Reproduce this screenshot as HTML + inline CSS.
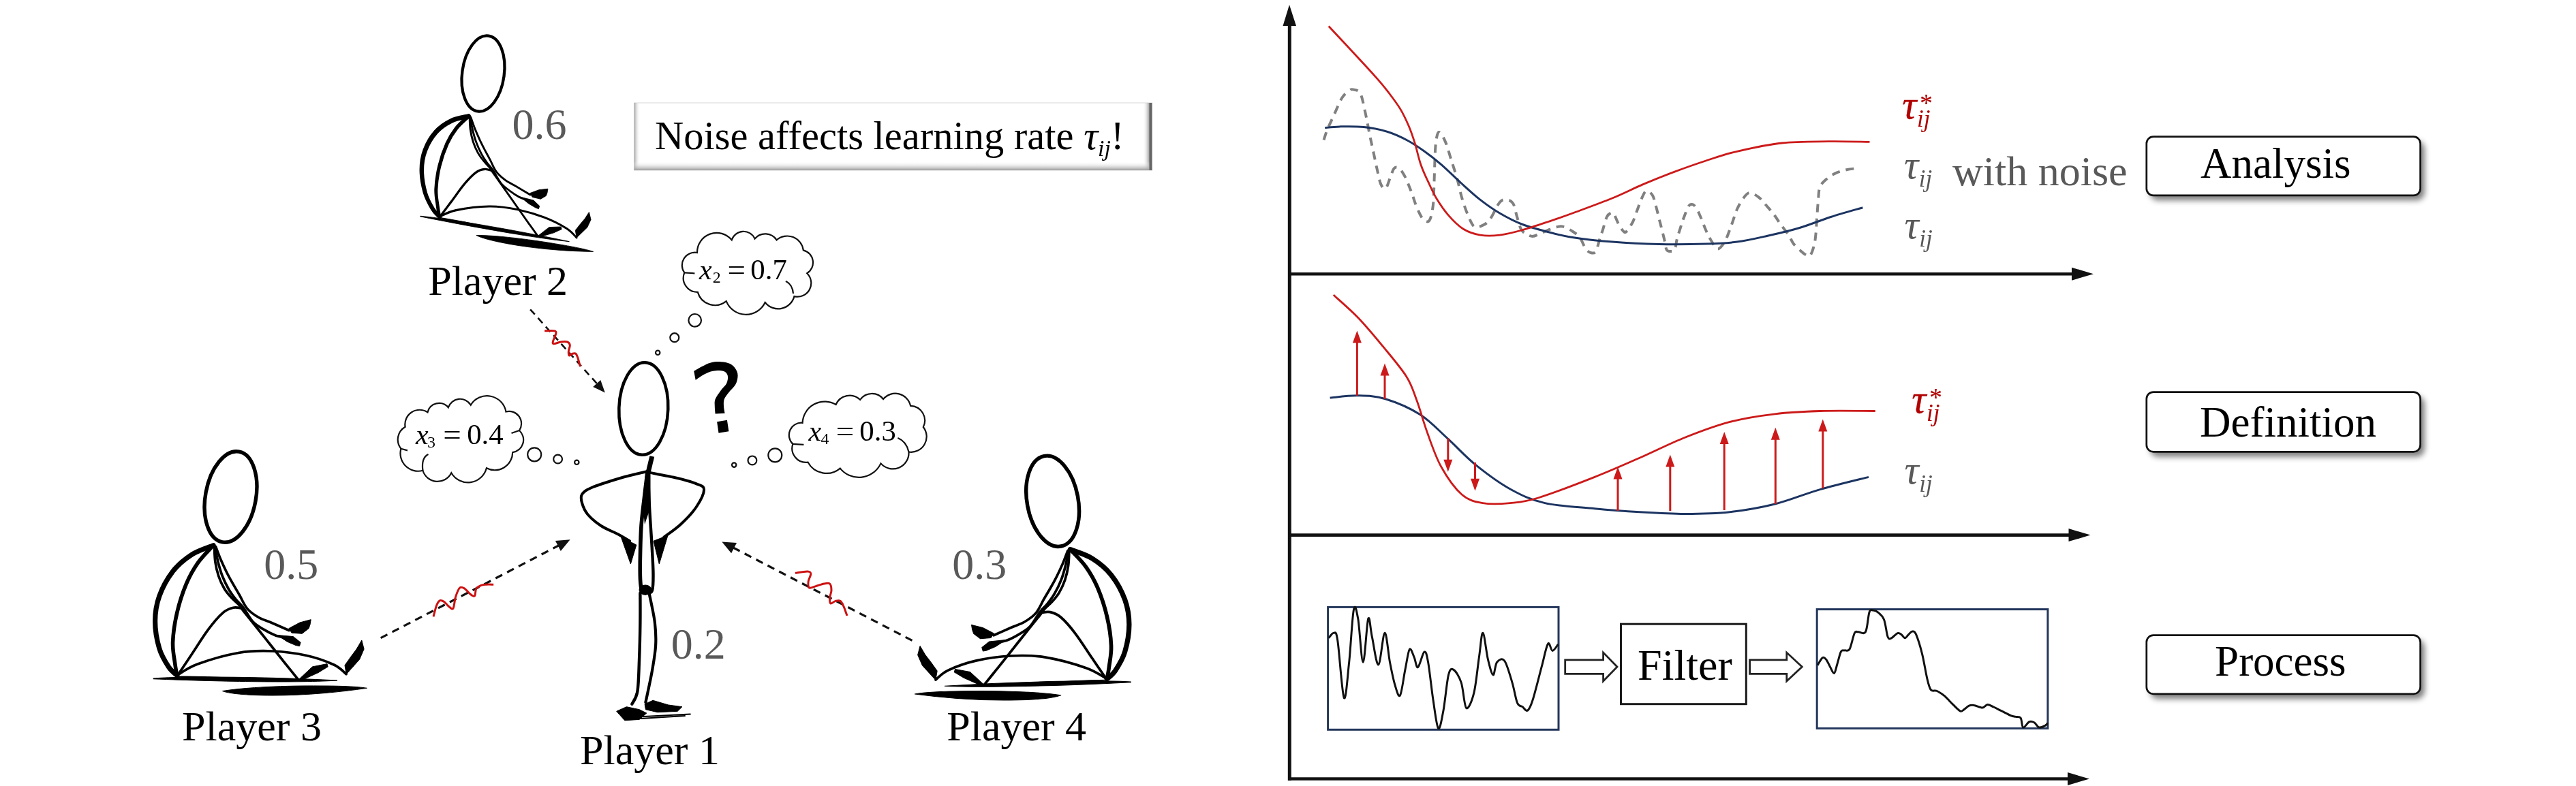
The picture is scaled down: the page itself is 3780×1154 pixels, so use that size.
<!DOCTYPE html>
<html><head><meta charset="utf-8"><style>
html,body{margin:0;padding:0;background:#fff;}
svg{display:block;will-change:transform;}
</style></head><body>
<svg width="3780" height="1154" viewBox="0 0 3780 1154" font-family="Liberation Serif">
<defs>
<filter id="blur" x="-5%" y="-20%" width="110%" height="140%"><feGaussianBlur stdDeviation="4.5"/></filter>
<linearGradient id="gL" x1="0" x2="1" y1="0" y2="0"><stop offset="0" stop-color="#a8a8a8"/><stop offset="1" stop-color="#fff" stop-opacity="0"/></linearGradient>
<linearGradient id="gR" x1="0" x2="1" y1="0" y2="0"><stop offset="0" stop-color="#fff" stop-opacity="0"/><stop offset="1" stop-color="#999"/></linearGradient>
<linearGradient id="gB" x1="0" x2="0" y1="0" y2="1"><stop offset="0" stop-color="#fff" stop-opacity="0"/><stop offset="1" stop-color="#9a9a9a"/></linearGradient>
</defs>
<rect width="3780" height="1154" fill="#fff"/>
<g id="axes" fill="#111" stroke="#111">
<line x1="1892.3" y1="30" x2="1892.3" y2="1146" stroke-width="5"/>
<path d="M1892,7 L1882.5,38 L1902,38 Z" stroke="none"/>
<line x1="1890" y1="402.2" x2="3047" y2="402.2" stroke-width="4.6"/>
<path d="M3072,402.2 L3040,392.7 L3040,411.7 Z" stroke="none"/>
<line x1="1890" y1="785.6" x2="3042.5" y2="785.6" stroke-width="4.6"/>
<path d="M3067.5,785.6 L3035.5,776.1 L3035.5,795.1 Z" stroke="none"/>
<line x1="1890" y1="1143.5" x2="3041" y2="1143.5" stroke-width="4.6"/>
<path d="M3066,1143.5 L3034,1134.0 L3034,1153.0 Z" stroke="none"/>
</g>
<path d="M1942.5,205.5 C1943.4,202.9 1945.4,195.8 1947.8,190.0 C1950.2,184.2 1953.1,178.3 1956.7,170.6 C1960.3,162.9 1965.3,150.0 1969.2,143.8 C1973.1,137.6 1977.2,135.3 1979.9,133.2 C1982.6,131.1 1982.5,130.8 1985.2,131.4 C1987.9,132.0 1992.9,131.4 1995.9,136.7 C1998.9,142.0 2000.6,153.0 2003.0,163.4 C2005.4,173.8 2008.0,188.9 2010.1,199.0 C2012.2,209.1 2013.7,215.7 2015.5,224.0 C2017.3,232.3 2019.0,241.2 2020.8,248.9 C2022.6,256.6 2024.1,265.7 2026.2,270.3 C2028.3,274.9 2030.9,278.5 2033.3,276.7 C2035.7,274.9 2038.3,264.5 2040.4,259.6 C2042.5,254.7 2043.7,249.2 2045.8,247.1 C2047.9,245.0 2050.2,245.0 2052.9,247.1 C2055.6,249.2 2058.8,254.0 2061.8,259.6 C2064.8,265.2 2067.7,273.3 2070.7,281.0 C2073.7,288.7 2076.6,299.1 2079.6,305.9 C2082.6,312.7 2085.5,319.0 2088.5,322.0 C2091.5,325.0 2095.0,327.0 2097.4,323.7 C2099.8,320.4 2101.6,311.8 2102.8,302.3 C2104.0,292.8 2103.9,280.9 2104.5,266.7 C2105.1,252.5 2105.4,228.8 2106.3,216.9 C2107.2,205.0 2108.4,198.8 2109.9,195.5 C2111.4,192.2 2113.1,194.6 2115.2,197.3 C2117.3,200.0 2119.9,205.3 2122.3,211.5 C2124.7,217.7 2126.8,226.1 2129.5,234.7 C2132.2,243.3 2135.7,253.7 2138.4,263.2 C2141.1,272.7 2142.8,282.8 2145.5,291.7 C2148.2,300.6 2151.4,309.8 2154.4,316.6 C2157.4,323.4 2159.7,330.2 2163.3,332.6 C2166.9,335.0 2171.9,332.6 2175.8,330.8 C2179.7,329.0 2182.3,327.5 2186.5,321.9 C2190.7,316.3 2196.5,301.8 2200.7,297.0 C2204.8,292.2 2208.1,293.1 2211.4,293.4 C2214.7,293.7 2217.9,294.9 2220.3,298.8 C2222.7,302.7 2223.8,310.7 2225.6,316.6 C2227.4,322.5 2229.2,330.2 2231.0,334.4 C2232.8,338.5 2233.3,339.4 2236.3,341.5 C2239.3,343.6 2244.4,346.9 2248.8,346.9 C2253.2,346.9 2257.7,343.6 2263.0,341.5 C2268.3,339.4 2275.8,335.9 2280.8,334.4 C2285.9,332.9 2288.8,331.7 2293.3,332.6 C2297.8,333.5 2303.4,337.0 2307.6,339.7 C2311.8,342.4 2315.0,344.3 2318.2,348.6 C2321.4,352.9 2324.1,361.6 2326.9,365.4 C2329.7,369.2 2332.4,370.6 2334.9,371.2 C2337.4,371.8 2339.7,372.3 2341.8,368.9 C2343.9,365.5 2345.8,356.0 2347.5,350.6 C2349.2,345.2 2350.4,342.2 2352.1,336.8 C2353.8,331.4 2355.9,322.5 2357.8,318.5 C2359.7,314.5 2361.8,313.6 2363.5,312.8 C2365.2,312.0 2366.2,311.2 2368.1,313.9 C2370.0,316.6 2372.7,324.6 2375.0,328.8 C2377.3,333.0 2379.9,337.2 2381.8,339.1 C2383.7,341.0 2384.1,342.3 2386.4,340.2 C2388.7,338.1 2393.1,331.3 2395.6,326.5 C2398.1,321.7 2399.2,317.1 2401.3,311.6 C2403.4,306.1 2406.1,298.3 2408.2,293.3 C2410.3,288.3 2412.1,283.9 2413.9,281.8 C2415.7,279.8 2417.1,280.0 2419.0,281.0 C2420.9,282.0 2423.6,284.0 2425.4,287.6 C2427.2,291.2 2428.4,297.0 2429.9,302.5 C2431.4,308.0 2433.2,315.5 2434.5,320.8 C2435.8,326.1 2436.7,329.2 2438.0,334.5 C2439.3,339.8 2441.2,347.4 2442.5,352.8 C2443.8,358.2 2444.1,363.9 2445.5,366.6 C2446.9,369.3 2449.0,369.0 2451.0,369.0 C2453.0,369.0 2455.8,369.7 2457.4,366.6 C2459.1,363.5 2459.4,356.3 2460.9,350.6 C2462.4,344.9 2464.9,337.6 2466.6,332.2 C2468.3,326.8 2469.3,323.4 2471.2,318.5 C2473.1,313.6 2475.9,305.6 2478.0,302.5 C2480.1,299.4 2481.9,299.6 2483.8,300.2 C2485.7,300.8 2487.4,302.5 2489.5,305.9 C2491.6,309.3 2494.1,315.4 2496.4,320.8 C2498.7,326.2 2500.9,332.9 2503.2,338.0 C2505.5,343.1 2507.2,347.1 2510.1,351.7 C2513.0,356.3 2517.0,364.8 2520.4,365.4 C2523.8,366.0 2527.8,359.5 2530.7,355.1 C2533.6,350.7 2535.5,344.4 2537.6,339.1 C2539.7,333.8 2541.4,328.5 2543.3,323.1 C2545.2,317.8 2546.5,312.4 2549.0,307.0 C2551.5,301.6 2555.1,295.0 2558.2,291.0 C2561.3,287.0 2563.6,283.2 2567.4,283.0 C2571.2,282.8 2576.9,286.6 2581.1,289.9 C2585.3,293.1 2588.8,298.1 2592.6,302.5 C2596.4,306.9 2600.6,311.6 2604.0,316.2 C2607.4,320.8 2609.8,325.1 2613.2,329.9 C2616.6,334.7 2621.5,340.2 2624.6,344.8 C2627.7,349.4 2628.4,353.4 2631.5,357.4 C2634.6,361.4 2639.8,366.0 2643.0,368.9 C2646.2,371.8 2648.7,373.7 2651.0,374.6 C2653.3,375.6 2654.8,377.3 2656.7,374.6 C2658.6,371.9 2661.1,364.1 2662.4,358.6 C2663.7,353.1 2664.1,347.3 2664.7,341.4 C2665.3,335.5 2665.3,331.1 2665.9,323.1 C2666.5,315.1 2667.3,301.3 2668.1,293.3 C2668.8,285.3 2668.5,280.0 2670.4,275.0 C2672.3,270.0 2675.8,266.9 2679.6,263.5 C2683.4,260.1 2688.3,256.8 2693.3,254.4 C2698.3,252.0 2704.1,250.5 2709.4,249.3 C2714.8,248.1 2722.7,247.4 2725.4,247.0" fill="none" stroke="#808080" stroke-width="4" stroke-dasharray="12 9"/>
<path d="M1944.2,187.6 C1947.8,187.3 1956.1,186.1 1965.6,185.9 C1975.1,185.7 1989.3,185.3 2001.2,186.6 C2013.1,187.9 2026.2,190.4 2036.9,193.7 C2047.6,197.0 2056.5,201.4 2065.4,206.2 C2074.3,210.9 2082.0,216.3 2090.3,222.2 C2098.6,228.1 2106.3,234.1 2115.2,241.8 C2124.1,249.5 2134.2,259.9 2143.7,268.5 C2153.2,277.1 2162.7,286.0 2172.2,293.4 C2181.7,300.8 2190.6,307.1 2200.7,313.0 C2210.8,318.9 2221.5,324.6 2232.8,329.0 C2244.1,333.4 2256.5,336.6 2268.4,339.7 C2280.3,342.8 2287.8,345.3 2304.0,347.9 C2320.2,350.5 2344.1,353.3 2365.8,355.1 C2387.6,356.9 2411.6,358.1 2434.5,358.6 C2457.4,359.1 2484.1,358.7 2503.2,358.1 C2522.3,357.5 2533.7,357.1 2549.0,355.1 C2564.3,353.1 2579.5,349.4 2594.8,346.0 C2610.1,342.6 2625.4,339.1 2640.7,334.5 C2656.0,329.9 2671.1,323.5 2686.5,318.5 C2701.9,313.5 2725.6,307.0 2733.4,304.7" fill="none" stroke="#1c3461" stroke-width="3"/>
<path d="M1949.7,38.5 C1957.0,46.3 1981.7,72.8 1993.5,85.5 C2005.3,98.2 2013.1,106.7 2020.3,114.9 C2027.5,123.1 2031.2,127.4 2036.9,134.9 C2042.6,142.4 2049.7,151.6 2054.7,159.9 C2059.7,168.2 2063.5,176.5 2067.1,184.8 C2070.7,193.1 2073.0,200.2 2076.0,209.7 C2079.0,219.2 2081.6,232.3 2084.9,241.8 C2088.2,251.3 2091.7,258.4 2095.6,266.7 C2099.5,275.0 2103.0,283.4 2108.1,291.7 C2113.2,300.0 2119.4,309.2 2125.9,316.6 C2132.4,324.0 2139.6,331.4 2147.3,336.2 C2155.0,340.9 2163.3,343.6 2172.2,345.1 C2181.1,346.6 2190.6,346.3 2200.7,345.1 C2210.8,343.9 2220.9,341.3 2232.8,338.0 C2244.7,334.7 2259.4,329.7 2271.9,325.5 C2284.4,321.3 2291.9,318.8 2307.6,313.0 C2323.2,307.2 2348.5,298.1 2365.8,291.0 C2383.1,283.9 2396.3,276.9 2411.6,270.4 C2426.9,263.9 2442.1,257.8 2457.4,252.1 C2472.7,246.4 2487.9,241.0 2503.2,236.0 C2518.5,231.0 2530.4,226.6 2549.0,222.3 C2567.6,218.0 2592.4,212.4 2614.7,210.0 C2637.0,207.6 2661.5,208.0 2683.0,207.7 C2704.5,207.4 2733.4,208.3 2743.5,208.4" fill="none" stroke="#cc1a1a" stroke-width="2.8"/>
<path d="M1951.6,584.0 C1958.4,583.5 1978.8,580.5 1992.4,580.8 C2006.0,581.1 2017.7,581.1 2033.0,585.8 C2048.3,590.5 2068.7,599.0 2084.0,608.8 C2099.3,618.6 2111.2,632.1 2124.8,644.4 C2138.4,656.7 2150.2,670.3 2165.5,682.6 C2180.8,694.9 2199.5,708.9 2216.4,718.2 C2233.3,727.5 2246.4,733.9 2267.0,738.6 C2287.6,743.4 2316.8,744.5 2340.0,746.7 C2363.2,748.9 2384.0,750.4 2406.0,751.7 C2428.0,753.0 2449.9,754.4 2472.0,754.4 C2494.1,754.4 2516.4,754.1 2538.5,751.7 C2560.6,749.3 2582.5,745.5 2604.6,740.0 C2626.7,734.5 2647.9,725.2 2670.8,718.6 C2693.7,712.0 2730.1,703.4 2742.0,700.4" fill="none" stroke="#1c3461" stroke-width="3"/>
<path d="M1956.7,433.0 C1962.7,438.5 1980.5,453.7 1992.4,466.0 C2004.3,478.3 2016.1,492.6 2028.0,507.0 C2039.9,521.5 2055.2,539.2 2063.7,552.7 C2072.2,566.2 2073.9,574.5 2079.0,588.0 C2084.1,601.5 2088.1,617.8 2094.0,634.0 C2099.9,650.2 2106.1,669.7 2114.6,685.0 C2123.1,700.3 2134.8,717.1 2145.0,726.0 C2155.2,734.9 2163.9,736.5 2175.7,738.6 C2187.5,740.7 2202.4,739.9 2216.0,738.6 C2229.6,737.3 2236.3,737.4 2257.0,731.0 C2277.7,724.6 2315.2,710.2 2340.0,700.4 C2364.8,690.6 2384.0,681.9 2406.0,672.3 C2428.0,662.6 2449.9,651.3 2472.0,642.5 C2494.1,633.7 2516.4,625.2 2538.5,619.4 C2560.6,613.6 2582.5,610.4 2604.6,607.8 C2626.7,605.1 2646.3,604.2 2670.8,603.5 C2695.3,602.8 2738.3,603.5 2751.8,603.5" fill="none" stroke="#cc1a1a" stroke-width="2.8"/>
<g fill="#cc1a1a" stroke="#cc1a1a">
<line x1="1991.4" y1="580.8" x2="1991.4" y2="500.5" stroke-width="3"/>
<path d="M1991.4,485.5 L1984.9,503.5 L1997.9,503.5 Z" stroke="none"/>
<line x1="2032" y1="585.8" x2="2032" y2="548.4" stroke-width="3"/>
<path d="M2032,533.4 L2025.5,551.4 L2038.5,551.4 Z" stroke="none"/>
<line x1="2374" y1="750" x2="2374" y2="700.5" stroke-width="3"/>
<path d="M2374,685.5 L2367.5,703.5 L2380.5,703.5 Z" stroke="none"/>
<line x1="2450.8" y1="750" x2="2450.8" y2="682.4" stroke-width="3"/>
<path d="M2450.8,667.4 L2444.3,685.4 L2457.3,685.4 Z" stroke="none"/>
<line x1="2530.2" y1="749" x2="2530.2" y2="649" stroke-width="3"/>
<path d="M2530.2,634 L2523.7,652 L2536.7,652 Z" stroke="none"/>
<line x1="2605.3" y1="740" x2="2605.3" y2="642.7" stroke-width="3"/>
<path d="M2605.3,627.7 L2598.8,645.7 L2611.8,645.7 Z" stroke="none"/>
<line x1="2674.8" y1="717" x2="2674.8" y2="630.4" stroke-width="3"/>
<path d="M2674.8,615.4 L2668.3,633.4 L2681.3,633.4 Z" stroke="none"/>
<line x1="2124.8" y1="643.4" x2="2124.8" y2="677.8" stroke-width="3"/>
<path d="M2124.8,692.8 L2118.3,674.8 L2131.3,674.8 Z" stroke="none"/>
<line x1="2164.5" y1="679" x2="2164.5" y2="705.8" stroke-width="3"/>
<path d="M2164.5,720.8 L2158.0,702.8 L2171.0,702.8 Z" stroke="none"/>
</g>
<rect x="1948.6" y="891.4" width="338.4" height="179.9" fill="none" stroke="#23365b" stroke-width="3"/>
<rect x="2666.2" y="894.6" width="338.7" height="174.8" fill="none" stroke="#23365b" stroke-width="3"/>
<path d="M1949.8,936.7 C1951.0,935.4 1955.1,928.6 1957.2,929.2 C1959.4,929.8 1960.3,924.5 1962.8,940.4 C1965.3,956.3 1969.4,1019.2 1972.2,1024.5 C1975.0,1029.8 1977.3,993.7 1979.7,972.2 C1982.0,950.7 1984.2,906.1 1986.4,895.5 C1988.6,884.9 1990.5,895.8 1992.8,908.6 C1995.1,921.4 1997.7,972.2 2000.2,972.2 C2002.7,972.2 2005.5,914.8 2007.7,908.6 C2009.9,902.4 2010.8,923.6 2013.3,934.8 C2015.8,946.0 2019.6,976.9 2022.7,975.9 C2025.8,975.0 2029.2,929.8 2032.0,929.2 C2034.8,928.6 2037.0,959.4 2039.5,972.2 C2042.0,985.0 2044.5,997.7 2047.0,1005.8 C2049.5,1014.0 2052.0,1024.5 2054.5,1020.8 C2057.0,1017.1 2059.6,994.6 2061.9,983.4 C2064.3,972.2 2066.1,956.6 2068.3,953.5 C2070.5,950.4 2073.0,960.3 2075.0,964.7 C2077.1,969.1 2078.2,980.9 2080.6,979.7 C2083.1,978.4 2087.5,958.5 2090.0,957.2 C2092.5,956.0 2093.4,960.3 2095.6,972.2 C2097.8,984.0 2100.6,1012.1 2103.1,1028.3 C2105.6,1044.5 2108.1,1066.9 2110.6,1069.4 C2113.1,1071.9 2115.5,1056.3 2118.0,1043.2 C2120.5,1030.2 2123.0,1000.9 2125.5,990.9 C2128.0,980.9 2129.9,981.5 2133.0,983.4 C2136.1,985.3 2141.1,992.8 2144.2,1002.1 C2147.3,1011.5 2148.6,1037.0 2151.7,1039.5 C2154.8,1042.0 2159.8,1029.5 2162.9,1017.1 C2166.0,1004.6 2168.2,979.4 2170.4,964.7 C2172.6,950.1 2173.8,928.6 2176.0,929.2 C2178.2,929.8 2181.0,958.2 2183.5,968.5 C2186.0,978.7 2188.8,990.3 2191.0,990.9 C2193.1,991.5 2193.8,975.6 2196.6,972.2 C2199.4,968.8 2204.1,965.3 2207.8,970.3 C2211.5,975.3 2215.9,991.8 2219.0,1002.1 C2222.1,1012.4 2224.0,1026.1 2226.5,1032.0 C2229.0,1037.9 2231.5,1035.8 2234.0,1037.6 C2236.5,1039.5 2239.0,1044.8 2241.5,1043.2 C2243.9,1041.7 2245.5,1038.9 2248.9,1028.3 C2252.4,1017.7 2258.3,993.5 2262.0,979.7 C2265.8,965.8 2268.7,949.3 2271.4,945.3 C2274.0,941.2 2275.6,955.2 2278.1,955.4 C2280.6,955.5 2285.0,947.6 2286.3,946.0" fill="none" stroke="#111" stroke-width="3"/>
<path d="M2667.1,976.6 C2668.3,974.8 2672.2,967.1 2674.3,965.7 C2676.4,964.4 2677.9,966.2 2679.7,968.3 C2681.5,970.4 2683.2,975.0 2685.2,978.4 C2687.1,981.8 2689.5,989.1 2691.3,988.5 C2693.1,987.9 2694.3,980.1 2696.0,974.8 C2697.7,969.5 2699.6,960.0 2701.4,956.7 C2703.2,953.4 2704.7,955.5 2706.8,954.9 C2708.9,954.3 2711.7,957.3 2714.1,953.1 C2716.5,948.9 2719.2,933.8 2721.3,929.6 C2723.4,925.4 2724.0,928.1 2726.7,927.8 C2729.4,927.5 2734.8,932.6 2737.5,927.8 C2740.3,923.0 2741.2,904.2 2743.0,898.9 C2744.8,893.6 2746.3,896.0 2748.4,896.0 C2750.5,896.0 2752.9,896.6 2755.6,898.9 C2758.3,901.2 2762.2,903.7 2764.6,909.7 C2767.0,915.8 2768.3,930.5 2770.1,935.0 C2771.9,939.5 2773.1,937.7 2775.5,936.8 C2777.9,935.9 2782.1,930.5 2784.5,929.6 C2786.9,928.7 2788.1,930.2 2789.9,931.4 C2791.7,932.6 2793.5,936.8 2795.3,936.8 C2797.2,936.8 2799.0,933.0 2800.8,931.4 C2802.6,929.8 2804.4,927.1 2806.2,927.1 C2808.0,927.1 2809.2,925.9 2811.6,931.4 C2814.0,937.0 2817.9,949.5 2820.6,960.3 C2823.3,971.2 2825.8,987.7 2827.9,996.4 C2830.0,1005.2 2830.9,1009.7 2833.3,1012.7 C2835.7,1015.7 2839.0,1013.0 2842.3,1014.5 C2845.6,1016.0 2849.2,1018.4 2853.2,1021.7 C2857.1,1025.0 2861.9,1030.6 2865.8,1034.4 C2869.7,1038.1 2873.9,1042.9 2876.6,1044.1 C2879.3,1045.3 2879.9,1042.9 2882.1,1041.6 C2884.2,1040.3 2886.9,1037.2 2889.3,1036.2 C2891.7,1035.2 2893.2,1035.0 2896.5,1035.5 C2899.8,1035.9 2905.8,1039.3 2909.1,1039.1 C2912.5,1038.9 2913.7,1034.6 2916.4,1034.4 C2919.1,1034.2 2922.1,1036.5 2925.4,1038.0 C2928.7,1039.5 2932.0,1041.3 2936.2,1043.4 C2940.5,1045.5 2947.1,1049.1 2950.7,1050.6 C2954.3,1052.1 2955.5,1051.8 2957.9,1052.4 C2960.3,1053.0 2963.3,1051.7 2965.1,1054.2 C2967.0,1056.8 2966.6,1067.1 2968.8,1068.0 C2970.9,1068.9 2975.1,1060.9 2977.8,1059.7 C2980.5,1058.5 2982.6,1059.4 2985.0,1060.8 C2987.4,1062.1 2989.5,1067.3 2992.2,1068.0 C2994.9,1068.7 2999.2,1066.2 3001.3,1065.1 C3003.4,1064.0 3004.3,1062.1 3004.9,1061.5" fill="none" stroke="#111" stroke-width="3"/>
<path d="M2296.7,968.8000000000001 L2352.6,968.8000000000001 L2352.6,958.1 L2373,979.1 L2352.6,1000.1 L2352.6,989.4 L2296.7,989.4 Z" fill="#fff" stroke="#222" stroke-width="2.8"/>
<path d="M2567.6,968.8000000000001 L2621.8,968.8000000000001 L2621.8,958.1 L2644.3,979.1 L2621.8,1000.1 L2621.8,989.4 L2567.6,989.4 Z" fill="#fff" stroke="#222" stroke-width="2.8"/>
<rect x="2378.5" y="916.2" width="183.8" height="117.5" fill="#fff" stroke="#1a1a1a" stroke-width="3"/>
<text x="2403.1" y="998.2" font-size="64" font-family="Liberation Serif" fill="#000">Filter</text>
<text x="2791.3" y="174" font-family="Liberation Serif" font-style="italic" font-size="59" fill="#b00000" stroke="#b00000" stroke-width="0.3">τ</text><text x="2813.1" y="186.1" font-family="Liberation Serif" font-style="italic" font-size="35.0" fill="#b00000">ij</text><text x="2816.9" y="163.6" font-family="Liberation Serif" font-size="38.0" fill="#b00000">*</text>
<text x="2794" y="261.5" font-family="Liberation Serif" font-style="italic" font-size="59" fill="#595959">τ</text><text x="2815.8" y="273.6" font-family="Liberation Serif" font-style="italic" font-size="35.0" fill="#595959">ij</text>
<text x="2865" y="271.5" font-family="Liberation Serif" font-size="62" fill="#595959">with noise</text>
<text x="2794.4" y="350" font-family="Liberation Serif" font-style="italic" font-size="59" fill="#595959">τ</text><text x="2816.2" y="362.1" font-family="Liberation Serif" font-style="italic" font-size="35.0" fill="#595959">ij</text>
<text x="2805.3" y="606" font-family="Liberation Serif" font-style="italic" font-size="59" fill="#b00000" stroke="#b00000" stroke-width="0.3">τ</text><text x="2827.1" y="618.1" font-family="Liberation Serif" font-style="italic" font-size="35.0" fill="#b00000">ij</text><text x="2830.9" y="595.6" font-family="Liberation Serif" font-size="38.0" fill="#b00000">*</text>
<text x="2794.4" y="710" font-family="Liberation Serif" font-style="italic" font-size="59" fill="#595959">τ</text><text x="2816.2" y="722.1" font-family="Liberation Serif" font-style="italic" font-size="35.0" fill="#595959">ij</text>
<rect x="3155" y="206.9" width="403" height="87.4" rx="12" fill="#000" opacity="0.5" filter="url(#blur)"/>
<rect x="3149.8" y="200.70000000000002" width="401.8" height="86.2" rx="10" fill="#fff" stroke="#111" stroke-width="2.7"/>
<text x="3229.1" y="261.1" font-family="Liberation Serif" font-size="63" fill="#000">Analysis</text>
<rect x="3155" y="581.8" width="403" height="88.90000000000009" rx="12" fill="#000" opacity="0.5" filter="url(#blur)"/>
<rect x="3149.8" y="575.5999999999999" width="401.8" height="87.70000000000009" rx="10" fill="#fff" stroke="#111" stroke-width="2.7"/>
<text x="3228.1" y="640.6" font-family="Liberation Serif" font-size="63" fill="#000">Definition</text>
<rect x="3155" y="938.9" width="403" height="87.30000000000007" rx="12" fill="#000" opacity="0.5" filter="url(#blur)"/>
<rect x="3149.8" y="932.6999999999999" width="401.8" height="86.10000000000007" rx="10" fill="#fff" stroke="#111" stroke-width="2.7"/>
<text x="3250.1" y="991.9" font-family="Liberation Serif" font-size="63" fill="#000">Process</text>
<path d="M1023.0,371.0 A28.6,28.6 0 0 1 1073.7,352.3 A18.2,18.2 0 0 1 1107.6,350.5 A20.1,20.1 0 0 1 1139.6,352.3 A23.8,23.8 0 0 1 1178.8,367.4 A18.6,18.6 0 0 1 1184.2,401.3 A20.0,20.0 0 0 1 1165.5,435.1 A24.4,24.4 0 0 1 1122.7,444.0 A31.1,31.1 0 0 1 1065.7,442.2 A26.3,26.3 0 0 1 1023.8,428.9 A20.7,20.7 0 0 1 1004.3,400.4 A18.8,18.8 0 0 1 1023.0,371.0 Z" fill="#fff" stroke="#111" stroke-width="2.2"/>
<path d="M620.4,690.8 A26.1,26.1 0 0 1 588.4,658.7 A21.5,21.5 0 0 1 594.6,626.7 A21.4,21.4 0 0 1 627.5,605.3 A17.4,17.4 0 0 1 657.8,598.2 A18.3,18.3 0 0 1 690.8,594.6 A28.1,28.1 0 0 1 742.4,604.4 A18.1,18.1 0 0 1 762.0,632.0 A18.5,18.5 0 0 1 752.2,664.1 A26.1,26.1 0 0 1 713.9,687.2 A28.1,28.1 0 0 1 662.3,694.3 A22.6,22.6 0 0 1 620.4,690.8 Z" fill="#fff" stroke="#111" stroke-width="2.2"/>
<path d="M1177.6,620.8 A32.6,32.6 0 0 1 1226.6,594.0 A22.0,22.0 0 0 1 1262.2,586.9 A21.2,21.2 0 0 1 1296.1,586.0 A22.9,22.9 0 0 1 1336.1,595.8 A21.6,21.6 0 0 1 1354.8,627.0 A22.7,22.7 0 0 1 1333.5,663.5 A23.4,23.4 0 0 1 1292.5,680.4 A35.4,35.4 0 0 1 1232.8,687.6 A31.0,31.0 0 0 1 1185.6,678.7 A20.5,20.5 0 0 1 1163.4,651.9 A18.1,18.1 0 0 1 1177.6,620.8 Z" fill="#fff" stroke="#111" stroke-width="2.2"/>
<g fill="none" stroke="#111" stroke-width="2.2">
<path d="M1153,412.8 Q1163,418 1164,431"/>
<path d="M1004.3,400.4 L1019.4,401.3"/>
<path d="M1317.4,643 Q1330,648 1333.5,663.5"/>
<path d="M1163.4,651.9 L1179.4,652.8"/>
<path d="M620.4,690.8 Q618,672 628.5,667"/>
<path d="M762,632 L750.5,636"/>
<path d="M588.4,658.7 L598,661.4"/>
</g>
<g fill="#fff" stroke="#111" stroke-width="2.2">
<circle cx="1019.7" cy="470.3" r="9.3"/>
<circle cx="989.8" cy="495.7" r="6.5"/>
<circle cx="965.2" cy="517.8" r="3.2"/>
<circle cx="784.2" cy="667.3" r="10"/>
<circle cx="818.6" cy="674" r="6.4"/>
<circle cx="846.3" cy="678.8" r="3.2"/>
<circle cx="1137.3" cy="668.3" r="10"/>
<circle cx="1103.9" cy="675.9" r="6.4"/>
<circle cx="1077.2" cy="682.6" r="3.2"/>
</g>
<text x="1026.1" y="409.7" font-family="Liberation Serif" font-style="italic" font-size="42" fill="#000">x</text><text x="1045.7" y="414.8" font-family="Liberation Serif" font-size="23.9" fill="#000">2</text><text x="0" y="0" transform="translate(1067.5,409.7) scale(1.12,1)" font-family="Liberation Serif" font-size="42" fill="#000">=</text><text x="1101.3" y="409.7" font-family="Liberation Serif" font-size="42.8" fill="#000">0.7</text>
<text x="610" y="651.5" font-family="Liberation Serif" font-style="italic" font-size="42" fill="#000">x</text><text x="627" y="657" font-family="Liberation Serif" font-size="23.9" fill="#000">3</text><text x="0" y="0" transform="translate(650.3,651.5) scale(1.12,1)" font-family="Liberation Serif" font-size="42" fill="#000">=</text><text x="685.2" y="651.5" font-family="Liberation Serif" font-size="42.8" fill="#000">0.4</text>
<text x="1186.4" y="646.5" font-family="Liberation Serif" font-style="italic" font-size="42" fill="#000">x</text><text x="1204.5" y="652" font-family="Liberation Serif" font-size="23.9" fill="#000">4</text><text x="0" y="0" transform="translate(1226.7,646.5) scale(1.12,1)" font-family="Liberation Serif" font-size="42" fill="#000">=</text><text x="1261.3" y="646.5" font-family="Liberation Serif" font-size="42.8" fill="#000">0.3</text>
<line x1="778.1" y1="454.3" x2="877.1" y2="564.5" stroke="#111" stroke-width="2.6" stroke-dasharray="10 7"/><path d="M887.8,576.4 L870.2,568.0 L881.3,558.0 Z" fill="#111"/>
<line x1="558.7" y1="936.7" x2="820.6" y2="800.5" stroke="#111" stroke-width="3.2" stroke-dasharray="11 8"/><path d="M836.6,792.2 L822.8,809.0 L814.9,793.9 Z" fill="#111"/>
<line x1="1338.5" y1="940.4" x2="1075.3" y2="803.7" stroke="#111" stroke-width="3.2" stroke-dasharray="11 8"/><path d="M1059.3,795.4 L1081.0,797.1 L1073.1,812.2 Z" fill="#111"/>
<path d="M799.1,485.8 C801.6,485.8 811.7,484.9 814.4,485.8 C817.1,486.8 815.8,489.0 815.3,491.5 C814.8,494.0 812.0,498.8 811.5,501.0 C811.0,503.2 810.6,504.6 812.5,504.8 C814.4,505.0 819.6,502.5 822.9,502.0 C826.2,501.5 830.3,501.2 832.5,502.0 C834.7,502.8 836.0,504.6 836.3,506.8 C836.6,509.0 834.6,512.8 834.4,515.3 C834.2,517.8 834.3,521.4 835.3,522.0 C836.2,522.6 838.5,519.7 840.1,519.2 C841.7,518.7 843.6,518.2 844.9,519.2 C846.2,520.2 846.9,522.9 847.7,524.9 C848.5,526.9 849.0,529.3 849.6,531.5 C850.2,533.7 851.2,537.1 851.5,538.2" fill="none" stroke="#cc1111" stroke-width="3" stroke-linejoin="round"/>
<path d="M636.0,905.3 C636.8,902.5 639.2,892.3 640.8,888.4 C642.4,884.5 643.9,882.4 645.7,881.6 C647.5,880.8 649.5,882.1 651.7,883.6 C653.9,885.1 656.8,889.2 659.0,890.8 C661.2,892.4 663.4,895.6 665.0,893.2 C666.6,890.8 667.0,881.3 668.6,876.3 C670.2,871.3 672.5,865.0 674.7,863.0 C676.9,861.0 679.5,862.8 681.9,864.2 C684.3,865.6 686.8,869.7 689.2,871.5 C691.6,873.3 694.8,876.3 696.4,875.1 C698.0,873.9 697.2,866.8 698.8,864.2 C700.4,861.6 703.6,860.4 706.0,859.4 C708.4,858.4 710.3,858.4 713.3,858.2 C716.3,858.0 722.4,858.2 724.2,858.2" fill="none" stroke="#cc1111" stroke-width="3" stroke-linejoin="round"/>
<path d="M1166.9,841.3 C1169.9,840.9 1181.2,838.7 1185.0,838.9 C1188.8,839.1 1189.6,840.1 1189.8,842.5 C1190.0,844.9 1186.6,850.0 1186.2,853.4 C1185.8,856.8 1185.6,861.8 1187.4,863.0 C1189.2,864.2 1193.5,861.6 1197.1,860.6 C1200.7,859.6 1205.8,857.6 1209.2,857.0 C1212.6,856.4 1215.8,855.4 1217.6,857.0 C1219.4,858.6 1220.0,863.3 1220.0,866.7 C1220.0,870.1 1217.8,874.3 1217.6,877.5 C1217.4,880.7 1217.4,885.2 1218.8,886.0 C1220.2,886.8 1223.7,883.0 1226.1,882.4 C1228.5,881.8 1231.3,881.0 1233.3,882.4 C1235.3,883.8 1236.6,887.2 1238.2,890.8 C1239.8,894.4 1242.2,901.9 1243.0,904.1" fill="none" stroke="#cc1111" stroke-width="3" stroke-linejoin="round"/>
<g id="p3">
<ellipse cx="338.5" cy="729.5" rx="37" ry="67.5" transform="rotate(10.5 338.5 729.5)" fill="none" stroke="#000" stroke-width="5.4"/>
<g fill="none" stroke="#000" stroke-linecap="round" stroke-linejoin="round">
<path d="M313.1,800.7 C307.8,803.0 291.0,808.0 281.1,814.4 C271.2,820.8 261.5,828.7 253.6,838.9 C245.7,849.1 238.0,863.3 233.7,875.5 C229.4,887.7 227.6,899.4 227.6,912.1 C227.6,924.8 230.4,940.6 233.7,951.8 C237.0,963.0 243.2,972.7 247.5,979.3 C251.8,985.9 257.7,989.5 259.7,991.5" stroke-width="7.2"/>
<path d="M311.6,802.2 C308.0,806.3 296.6,817.4 290.2,826.6 C283.8,835.8 278.5,845.0 273.4,857.2 C268.3,869.4 263.0,885.6 259.7,899.9 C256.4,914.1 254.1,930.5 253.6,942.7 C253.1,954.9 255.6,965.1 256.6,973.2 C257.6,981.3 259.2,988.5 259.7,991.5" stroke-width="5.6"/>
<path d="M259.7,993.0 C263.3,987.7 273.5,972.4 281.1,961.0 C288.7,949.6 297.9,934.6 305.5,924.4 C313.1,914.2 320.8,905.2 326.9,899.9 C333.0,894.5 337.5,893.4 342.1,892.3 C346.7,891.1 352.5,892.9 354.6,893.0" stroke-width="3.7"/>
<path d="M314.5,802.6 C314.7,806.3 314.8,817.8 315.9,825.0 C316.9,832.2 318.6,839.5 320.8,846.0 C323.0,852.5 326.2,859.1 329.2,864.2 C332.2,869.3 335.5,872.9 339.0,876.8 C342.5,880.7 347.0,884.1 350.2,887.6 C353.4,891.1 353.1,891.8 358.0,898.0 C362.9,904.2 372.1,915.6 379.6,925.0 C387.1,934.4 396.1,945.8 403.0,954.5 C409.9,963.2 415.2,970.0 421.0,977.2 C426.8,984.4 434.8,994.2 437.5,997.6" stroke-width="3.7"/>
<path d="M316.6,802.6 C317.8,805.6 321.0,814.7 323.6,820.8 C326.2,826.9 329.0,832.9 332.0,839.0 C335.0,845.1 338.5,851.4 341.8,857.2 C345.1,863.0 348.1,867.9 351.6,874.0 C355.1,880.1 358.1,888.2 362.8,893.6 C367.5,899.0 373.5,903.0 379.6,906.5 C385.7,910.0 392.1,911.5 399.5,914.7 C406.9,917.9 419.9,923.7 424.0,925.5" stroke-width="3.7"/>
<path d="M315.5,802.6 C316.2,806.0 317.8,815.9 319.5,823.0 C321.2,830.1 323.3,838.0 326.0,845.0 C328.7,852.0 332.2,859.2 335.5,865.0 C338.8,870.8 342.4,875.5 346.0,880.0 C349.6,884.5 352.8,886.5 357.0,892.0 C361.2,897.5 366.2,907.6 371.3,913.1 C376.4,918.6 382.4,921.4 387.9,924.7 C393.4,928.0 399.2,931.0 404.4,932.9 C409.6,934.8 416.8,935.7 419.3,936.2" stroke-width="3.7"/>
<path d="M259.7,991.5 C264.8,988.8 274.9,980.5 290.0,975.0 C305.1,969.5 331.7,961.7 350.0,958.5 C368.3,955.3 383.3,955.3 400.0,956.0 C416.7,956.7 435.0,959.2 450.0,962.5 C465.0,965.8 480.3,971.5 490.0,976.0 C499.7,980.5 505.1,987.4 508.1,989.7" stroke-width="3.7"/>
</g>
<g fill="#000" stroke="#000" stroke-width="1" stroke-linejoin="round">
<path d="M423.8,922.7 L440.0,914.0 L456.2,909.7 L455.0,917.0 L453.0,922.7 L443.2,930.3 L428.1,929.2 Z"/>
<path d="M406.5,932.4 L430.3,934.6 L441.1,943.2 L439.5,948.6 L434.0,947.5 L421.6,942.2 Z"/>
<path d="M508.1,989.7 L506.0,976.8 L515.0,964.0 L523.2,953.0 L530.8,940.0 L534.1,953.0 L527.6,968.1 L510.3,987.6 Z"/>
<path d="M440.0,996.2 L458.4,978.9 L480.0,974.6 L481.1,978.9 L467.0,987.6 L443.2,998.4 Z"/>
<path d="M225,996 C260,993 380,993 495,999 C440,1002.5 330,1001 225,996.8 Z"/>
<path d="M260,993 C300,993 340,995 370,997 L300,998.5 Z"/>
<path d="M326.5,1014.6 C360,1009 420,1006.5 470,1007 C500,1007 525,1008 538.4,1010.3 C500,1016 450,1021 400,1021 C360,1021 335,1018 326.5,1014.6 Z"/>
</g>
</g>
<g id="p2">
<ellipse cx="709" cy="108" rx="30.8" ry="56" transform="rotate(8 709 108)" fill="none" stroke="#000" stroke-width="4.3"/>
<g transform="matrix(0.81,0.1296,0,0.81,434.44,-518.69)"><g fill="none" stroke="#000" stroke-linecap="round" stroke-linejoin="round">
<path d="M313.1,800.7 C307.8,803.0 291.0,808.0 281.1,814.4 C271.2,820.8 261.5,828.7 253.6,838.9 C245.7,849.1 238.0,863.3 233.7,875.5 C229.4,887.7 227.6,899.4 227.6,912.1 C227.6,924.8 230.4,940.6 233.7,951.8 C237.0,963.0 243.2,972.7 247.5,979.3 C251.8,985.9 257.7,989.5 259.7,991.5" stroke-width="8"/>
<path d="M311.6,802.2 C308.0,806.3 296.6,817.4 290.2,826.6 C283.8,835.8 278.5,845.0 273.4,857.2 C268.3,869.4 263.0,885.6 259.7,899.9 C256.4,914.1 254.1,930.5 253.6,942.7 C253.1,954.9 255.6,965.1 256.6,973.2 C257.6,981.3 259.2,988.5 259.7,991.5" stroke-width="6.2"/>
<path d="M259.7,993.0 C263.3,987.7 273.5,972.4 281.1,961.0 C288.7,949.6 297.9,934.6 305.5,924.4 C313.1,914.2 320.8,905.2 326.9,899.9 C333.0,894.5 337.5,893.4 342.1,892.3 C346.7,891.1 352.5,892.9 354.6,893.0" stroke-width="3.8"/>
<path d="M314.5,802.6 C314.7,806.3 314.8,817.8 315.9,825.0 C316.9,832.2 318.6,839.5 320.8,846.0 C323.0,852.5 326.2,859.1 329.2,864.2 C332.2,869.3 335.5,872.9 339.0,876.8 C342.5,880.7 347.0,884.1 350.2,887.6 C353.4,891.1 353.1,891.8 358.0,898.0 C362.9,904.2 372.1,915.6 379.6,925.0 C387.1,934.4 396.1,945.8 403.0,954.5 C409.9,963.2 415.2,970.0 421.0,977.2 C426.8,984.4 434.8,994.2 437.5,997.6" stroke-width="3.8"/>
<path d="M316.6,802.6 C317.8,805.6 321.0,814.7 323.6,820.8 C326.2,826.9 329.0,832.9 332.0,839.0 C335.0,845.1 338.5,851.4 341.8,857.2 C345.1,863.0 348.1,867.9 351.6,874.0 C355.1,880.1 358.1,888.2 362.8,893.6 C367.5,899.0 373.5,903.0 379.6,906.5 C385.7,910.0 392.1,911.5 399.5,914.7 C406.9,917.9 419.9,923.7 424.0,925.5" stroke-width="3.8"/>
<path d="M315.5,802.6 C316.2,806.0 317.8,815.9 319.5,823.0 C321.2,830.1 323.3,838.0 326.0,845.0 C328.7,852.0 332.2,859.2 335.5,865.0 C338.8,870.8 342.4,875.5 346.0,880.0 C349.6,884.5 352.8,886.5 357.0,892.0 C361.2,897.5 366.2,907.6 371.3,913.1 C376.4,918.6 382.4,921.4 387.9,924.7 C393.4,928.0 399.2,931.0 404.4,932.9 C409.6,934.8 416.8,935.7 419.3,936.2" stroke-width="3.8"/>
<path d="M259.7,991.5 C264.8,988.8 274.9,980.5 290.0,975.0 C305.1,969.5 331.7,961.7 350.0,958.5 C368.3,955.3 383.3,955.3 400.0,956.0 C416.7,956.7 435.0,959.2 450.0,962.5 C465.0,965.8 480.3,971.5 490.0,976.0 C499.7,980.5 505.1,987.4 508.1,989.7" stroke-width="3.8"/>
</g>
<g fill="#000" stroke="#000" stroke-width="1" stroke-linejoin="round">
<path d="M423.8,922.7 L440.0,914.0 L456.2,909.7 L455.0,917.0 L453.0,922.7 L443.2,930.3 L428.1,929.2 Z"/>
<path d="M406.5,932.4 L430.3,934.6 L441.1,943.2 L439.5,948.6 L434.0,947.5 L421.6,942.2 Z"/>
<path d="M508.1,989.7 L506.0,976.8 L515.0,964.0 L523.2,953.0 L530.8,940.0 L534.1,953.0 L527.6,968.1 L510.3,987.6 Z"/>
<path d="M440.0,996.2 L458.4,978.9 L480.0,974.6 L481.1,978.9 L467.0,987.6 L443.2,998.4 Z"/>
<path d="M225,996 C260,993 380,993 495,999 C440,1002.5 330,1001 225,996.8 Z"/>
<path d="M260,993 C300,993 340,995 370,997 L300,998.5 Z"/>
<path d="M326.5,1014.6 C360,1009 420,1006.5 470,1007 C500,1007 525,1008 538.4,1010.3 C500,1016 450,1021 400,1021 C360,1021 335,1018 326.5,1014.6 Z"/>
</g></g>
</g>
<g id="p4" transform="matrix(-1.012,0.012,0,1,1887.2,2.2)">
<ellipse cx="338.5" cy="729.5" rx="37" ry="67.5" transform="rotate(10.5 338.5 729.5)" fill="none" stroke="#000" stroke-width="5.4"/>
<g fill="none" stroke="#000" stroke-linecap="round" stroke-linejoin="round">
<path d="M313.1,800.7 C307.8,803.0 291.0,808.0 281.1,814.4 C271.2,820.8 261.5,828.7 253.6,838.9 C245.7,849.1 238.0,863.3 233.7,875.5 C229.4,887.7 227.6,899.4 227.6,912.1 C227.6,924.8 230.4,940.6 233.7,951.8 C237.0,963.0 243.2,972.7 247.5,979.3 C251.8,985.9 257.7,989.5 259.7,991.5" stroke-width="7.2"/>
<path d="M311.6,802.2 C308.0,806.3 296.6,817.4 290.2,826.6 C283.8,835.8 278.5,845.0 273.4,857.2 C268.3,869.4 263.0,885.6 259.7,899.9 C256.4,914.1 254.1,930.5 253.6,942.7 C253.1,954.9 255.6,965.1 256.6,973.2 C257.6,981.3 259.2,988.5 259.7,991.5" stroke-width="5.6"/>
<path d="M259.7,993.0 C263.3,987.7 273.5,972.4 281.1,961.0 C288.7,949.6 297.9,934.6 305.5,924.4 C313.1,914.2 320.8,905.2 326.9,899.9 C333.0,894.5 337.5,893.4 342.1,892.3 C346.7,891.1 352.5,892.9 354.6,893.0" stroke-width="3.7"/>
<path d="M314.5,802.6 C314.7,806.3 314.8,817.8 315.9,825.0 C316.9,832.2 318.6,839.5 320.8,846.0 C323.0,852.5 326.2,859.1 329.2,864.2 C332.2,869.3 335.5,872.9 339.0,876.8 C342.5,880.7 347.0,884.1 350.2,887.6 C353.4,891.1 353.1,891.8 358.0,898.0 C362.9,904.2 372.1,915.6 379.6,925.0 C387.1,934.4 396.1,945.8 403.0,954.5 C409.9,963.2 415.2,970.0 421.0,977.2 C426.8,984.4 434.8,994.2 437.5,997.6" stroke-width="3.7"/>
<path d="M316.6,802.6 C317.8,805.6 321.0,814.7 323.6,820.8 C326.2,826.9 329.0,832.9 332.0,839.0 C335.0,845.1 338.5,851.4 341.8,857.2 C345.1,863.0 348.1,867.9 351.6,874.0 C355.1,880.1 358.1,888.2 362.8,893.6 C367.5,899.0 373.5,903.0 379.6,906.5 C385.7,910.0 392.1,911.5 399.5,914.7 C406.9,917.9 419.9,923.7 424.0,925.5" stroke-width="3.7"/>
<path d="M315.5,802.6 C316.2,806.0 317.8,815.9 319.5,823.0 C321.2,830.1 323.3,838.0 326.0,845.0 C328.7,852.0 332.2,859.2 335.5,865.0 C338.8,870.8 342.4,875.5 346.0,880.0 C349.6,884.5 352.8,886.5 357.0,892.0 C361.2,897.5 366.2,907.6 371.3,913.1 C376.4,918.6 382.4,921.4 387.9,924.7 C393.4,928.0 399.2,931.0 404.4,932.9 C409.6,934.8 416.8,935.7 419.3,936.2" stroke-width="3.7"/>
<path d="M259.7,991.5 C264.8,988.8 274.9,980.5 290.0,975.0 C305.1,969.5 331.7,961.7 350.0,958.5 C368.3,955.3 383.3,955.3 400.0,956.0 C416.7,956.7 435.0,959.2 450.0,962.5 C465.0,965.8 480.3,971.5 490.0,976.0 C499.7,980.5 505.1,987.4 508.1,989.7" stroke-width="3.7"/>
</g>
<g fill="#000" stroke="#000" stroke-width="1" stroke-linejoin="round">
<path d="M423.8,922.7 L440.0,914.0 L456.2,909.7 L455.0,917.0 L453.0,922.7 L443.2,930.3 L428.1,929.2 Z"/>
<path d="M406.5,932.4 L430.3,934.6 L441.1,943.2 L439.5,948.6 L434.0,947.5 L421.6,942.2 Z"/>
<path d="M508.1,989.7 L506.0,976.8 L515.0,964.0 L523.2,953.0 L530.8,940.0 L534.1,953.0 L527.6,968.1 L510.3,987.6 Z"/>
<path d="M440.0,996.2 L458.4,978.9 L480.0,974.6 L481.1,978.9 L467.0,987.6 L443.2,998.4 Z"/>
<path d="M225,996 C260,993 380,993 495,999 C440,1002.5 330,1001 225,996.8 Z"/>
<path d="M260,993 C300,993 340,995 370,997 L300,998.5 Z"/>
<path d="M326.5,1014.6 C360,1009 420,1006.5 470,1007 C500,1007 525,1008 538.4,1010.3 C500,1016 450,1021 400,1021 C360,1021 335,1018 326.5,1014.6 Z"/>
</g>
</g>
<g id="p1" fill="none" stroke="#000" stroke-linecap="round" stroke-linejoin="round">
<ellipse cx="944.3" cy="600" rx="36" ry="67.8" transform="rotate(2 944.3 600)" stroke-width="4.5"/>
<path d="M956.8,670 L950.5,696" stroke-width="7" stroke-linecap="butt"/>
<path d="M950.0,693.0 C949.2,699.2 947.0,716.8 945.5,730.0 C944.0,743.2 942.0,758.0 941.0,772.0 C940.0,786.0 939.8,801.0 939.5,814.0 C939.2,827.0 939.1,841.0 939.5,850.0 C939.9,859.0 940.8,864.5 942.0,868.0 C943.2,871.5 946.2,870.5 947.0,871.0" stroke-width="5.6"/>
<path d="M951.0,693.0 C951.3,701.5 952.1,726.2 953.0,744.0 C953.9,761.8 955.6,783.7 956.5,800.0 C957.4,816.3 958.4,830.8 958.5,842.0 C958.6,853.2 958.4,862.2 957.0,867.0 C955.6,871.8 951.2,870.3 950.0,871.0" stroke-width="4.4"/>
<path d="M947,694 L954.5,694 L954.5,745 L946,770 L943.5,745 Z" fill="#000" stroke="none"/>
<path d="M949.2,692.2 C942.7,693.8 923.5,698.0 910.0,702.0 C896.5,706.0 877.3,712.0 868.0,716.0 C858.7,720.0 856.3,722.1 854.0,725.8 C851.7,729.5 852.6,733.5 854.0,738.4 C855.4,743.3 857.7,749.6 862.4,755.2 C867.1,760.8 874.5,767.1 882.0,772.0 C889.5,776.9 900.2,780.8 907.2,784.5 C914.2,788.2 921.2,792.7 924.0,794.3" stroke-width="4"/>
<path d="M952.0,693.6 C959.0,695.0 982.3,699.2 994.0,702.0 C1005.7,704.8 1015.5,707.6 1022.0,710.4 C1028.5,713.2 1033.1,713.2 1033.1,718.8 C1033.1,724.4 1027.6,735.6 1022.0,744.0 C1016.4,752.4 1007.5,761.8 999.5,769.2 C991.5,776.7 978.5,785.5 974.3,788.7" stroke-width="4"/>
<path d="M939.4,870.7 C939.4,877.8 939.6,897.4 939.4,913.4 C939.2,929.4 938.8,950.0 938.1,966.9 C937.4,983.8 937.2,1003.9 935.4,1015.0 C933.6,1026.1 928.7,1030.6 927.4,1033.7" stroke-width="4.4"/>
<path d="M952.8,872.0 C954.1,878.9 959.2,900.7 960.8,913.4 C962.3,926.1 962.8,936.2 962.1,948.2 C961.4,960.2 959.2,971.8 956.8,985.6 C954.3,999.4 949.0,1023.4 947.4,1031.0" stroke-width="4.2"/>
<path d="M935.4,1052.4 L1012.9,1048.4 M940,1055 L1005,1051" stroke-width="2"/>
</g>
<g fill="#000" stroke="#000" stroke-width="1" stroke-linejoin="round">
<path d="M911.4,788.7 L933.8,800.0 L925.4,828.0 Z"/>
<path d="M959.0,794.3 L980.0,786.0 L967.3,828.0 Z"/>
<path d="M904.7,1044.3 L919.4,1037.7 L938.1,1041.7 L948.8,1047.0 L938.1,1056.4 L916.7,1057.7 Z"/>
<path d="M946.1,1033.7 L958.1,1028.3 L980.8,1035.0 L1000.9,1037.7 L994.2,1044.3 L964.8,1045.7 L947.4,1041.7 Z"/>
<ellipse cx="947" cy="866" rx="9" ry="7"/>
</g>
<path d="M1018.2,544.8 C1020.1,543.7 1025.7,540.3 1029.8,538.2 C1033.9,536.1 1038.3,533.6 1043.0,532.4 C1047.7,531.2 1053.2,530.9 1057.9,531.2 C1062.6,531.5 1067.5,532.3 1071.1,534.0 C1074.7,535.7 1077.4,538.6 1079.3,541.5 C1081.2,544.4 1082.6,547.5 1082.6,551.4 C1082.6,555.2 1081.5,560.5 1079.3,564.6 C1077.1,568.7 1072.2,572.6 1069.4,576.2 C1066.7,579.8 1064.0,582.8 1062.8,586.1 C1061.6,589.4 1061.9,592.5 1062.0,596.0 C1062.1,599.5 1063.3,605.0 1063.6,606.8 L1049.6,607.6 C1049.5,605.7 1048.8,599.6 1048.8,596.0 C1048.8,592.4 1048.1,590.0 1049.6,586.1 C1051.1,582.2 1055.2,576.8 1057.9,572.9 C1060.7,569.0 1064.4,566.6 1066.1,563.0 C1067.8,559.4 1068.6,554.4 1067.8,551.4 C1067.0,548.4 1064.8,545.9 1061.2,544.8 C1057.6,543.7 1051.0,544.0 1046.3,544.8 C1041.6,545.6 1037.4,547.6 1033.1,549.8 C1028.8,552.0 1022.8,556.6 1020.7,558.0 Z" fill="#000"/>
<path d="M1052.1,619.2 L1066.9,616.7 L1069.4,633.2 L1054.5,635.7 Z" fill="#000"/>
<text x="751.6" y="204" font-family="Liberation Serif" font-size="64" fill="#595959" text-anchor="start">0.6</text>
<text x="387.3" y="850" font-family="Liberation Serif" font-size="64" fill="#595959" text-anchor="start">0.5</text>
<text x="1397.3" y="850" font-family="Liberation Serif" font-size="64" fill="#595959" text-anchor="start">0.3</text>
<text x="984.7" y="967" font-family="Liberation Serif" font-size="64" fill="#595959" text-anchor="start">0.2</text>
<text x="628.2" y="433" font-family="Liberation Serif" font-size="62" fill="#000" text-anchor="start">Player 2</text>
<text x="267.1" y="1086.7" font-family="Liberation Serif" font-size="62" fill="#000" text-anchor="start">Player 3</text>
<text x="851" y="1121.6" font-family="Liberation Serif" font-size="62" fill="#000" text-anchor="start">Player 1</text>
<text x="1389.2" y="1086.7" font-family="Liberation Serif" font-size="62" fill="#000" text-anchor="start">Player 4</text>
<g>
<rect x="930.5" y="151" width="760" height="99" fill="#fff" stroke="#d8d8d8" stroke-width="1"/>
<rect x="930.5" y="151" width="9" height="99" fill="url(#gL)"/>
<rect x="1677" y="151" width="10" height="99" fill="url(#gR)"/>
<rect x="930.5" y="237" width="760" height="13" fill="url(#gB)"/>
<rect x="1686.5" y="151" width="4" height="99" fill="#666"/>
</g>
<text x="961" y="219" font-family="Liberation Serif" font-size="58.5" fill="#000">Noise affects learning rate <tspan font-style="italic">τ</tspan><tspan font-style="italic" font-size="34" dy="10">ij</tspan><tspan dy="-10">!</tspan></text>
</svg>
</body></html>
